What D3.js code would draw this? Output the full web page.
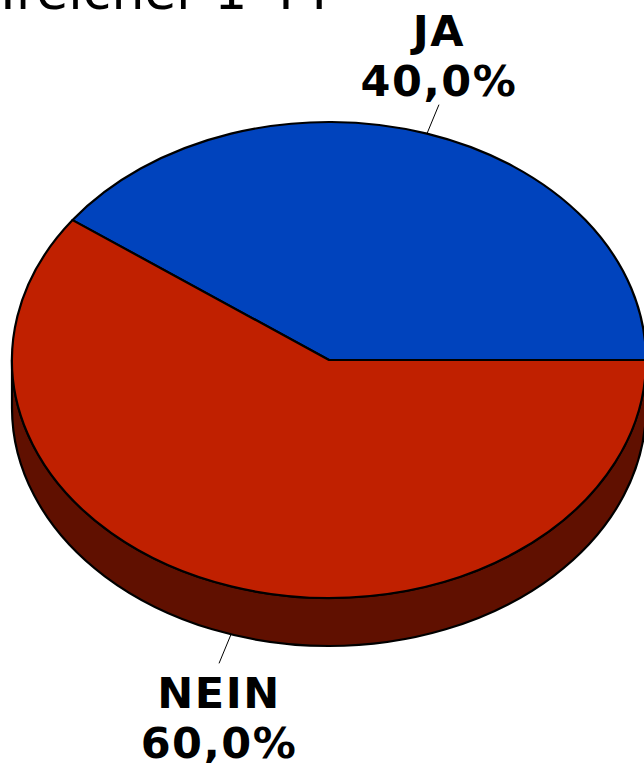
<!DOCTYPE html>
<html>
<head>
<meta charset="utf-8">
<script src="https://cdn.jsdelivr.net/npm/d3@7"></script>
<style>
  html, body { margin: 0; padding: 0; background: #fff; overflow: hidden; }
</style>
</head>
<body>
<div class="d3"></div>
<script>
// chart data
const categories = ['JA', 'NEIN'];
const values = [40.0, 60.0];
const labels = ['40,0%', '60,0%'];
const colors = ['#0043bd', '#c02000'];
const sideColors = ['#00256a', '#601000'];
const title = 'Treicher 1 44';

const width = 644;
const height = 763;
const cx = 329, cy = 360;
const rx = 317, ry = 238, depth = 48;

const svg = d3.select('.d3')
  .append('svg')
  .attr('width', width)
  .attr('height', height);

// title, cut off at the top like in the source
svg.append('text')
  .attr('x', -8)
  .attr('y', 9)
  .attr('font-family', 'DejaVu Sans')
  .attr('font-size', 52)
  .attr('fill', '#000')
  .text(title);

// angles start at 3 o'clock and go counterclockwise
const pie = d3.pie().sort(null).startAngle(0).endAngle(2 * Math.PI);
const arcs = pie(values);

const pt = (a, dy = 0) => [cx + rx * Math.cos(a), cy - ry * Math.sin(a) + dy];

function topPath(d) {
  const [x0, y0] = pt(d.startAngle);
  const [x1, y1] = pt(d.endAngle);
  const large = d.endAngle - d.startAngle > Math.PI ? 1 : 0;
  return `M${cx},${cy}L${x0},${y0}A${rx},${ry} 0 ${large} 0 ${x1},${y1}Z`;
}

function sidePath(d) {
  // only the front half (PI..2PI) is visible
  const a0 = Math.max(d.startAngle, Math.PI);
  const a1 = Math.min(d.endAngle, 2 * Math.PI);
  if (a1 <= a0) return null;
  const [x0, y0] = pt(a0);
  const [x1, y1] = pt(a1);
  const [x2, y2] = pt(a1, depth);
  const [x3, y3] = pt(a0, depth);
  return `M${x0},${y0}A${rx},${ry} 0 0 0 ${x1},${y1}L${x2},${y2}` +
    `A${rx},${ry} 0 0 1 ${x3},${y3}Z`;
}

const g = svg.append('g');

g.selectAll('path.side')
  .data(arcs.filter(d => sidePath(d)))
  .enter()
  .append('path')
  .attr('class', 'side')
  .attr('fill', d => sideColors[d.index])
  .attr('stroke', '#000')
  .attr('stroke-width', 2.2)
  .attr('stroke-linejoin', 'round')
  .attr('d', sidePath);

g.selectAll('path.top')
  .data(arcs)
  .enter()
  .append('path')
  .attr('class', 'top')
  .attr('fill', d => colors[d.index])
  .attr('stroke', '#000')
  .attr('stroke-width', 2.2)
  .attr('stroke-linejoin', 'round')
  .attr('d', topPath);

// leader lines and labels
arcs.forEach(d => {
  const mid = (d.startAngle + d.endAngle) / 2;
  const front = Math.sin(mid) < 0;
  const [x0, y0] = pt(mid, front ? depth : 0);
  const dir = front ? 1 : -1;
  const x1 = x0 + 12 * (front ? -1 : 1);
  const y1 = y0 + 29 * dir;
  svg.append('line')
    .attr('x1', x0).attr('y1', y0)
    .attr('x2', x1).attr('y2', y1)
    .attr('stroke', '#000')
    .attr('stroke-width', 1);

  const t = svg.append('text')
    .attr('text-anchor', 'middle')
    .attr('font-family', 'DejaVu Sans')
    .attr('font-weight', 'bold')
    .attr('font-size', 43)
    .attr('letter-spacing', 1.5)
    .attr('fill', '#000');
  const base = front ? y1 + 45 : y1 - 59;
  t.append('tspan').attr('x', x1).attr('y', base).text(categories[d.index]);
  t.append('tspan').attr('x', x1).attr('y', base + 50).text(labels[d.index]);
});
</script>
</body>
</html>
